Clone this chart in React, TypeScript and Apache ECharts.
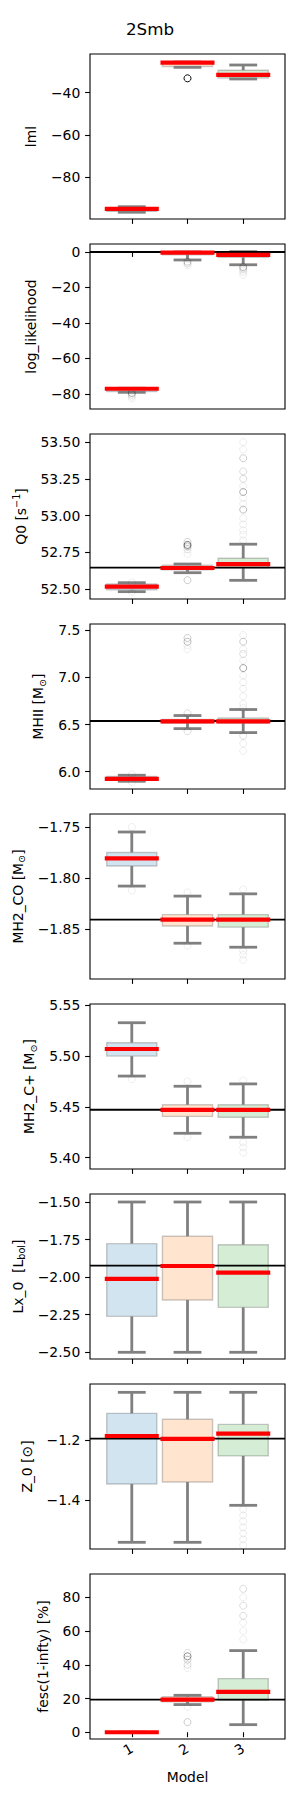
import React, { useEffect, useRef } from "react";
import * as echarts from "echarts";

const FONT = "DejaVu Sans";
const TITLE = "2Smb";
const X_NAME = "Model";
const MODELS = [1, 2, 3];
const X_TICKS = [1, 2, 3];
const X_MIN = 0.25;
const X_MAX = 3.75;

// Box stats per model: [whiskerLow, q1, median, q3, whiskerHigh]
const lmlBoxes = [[-96.5, -96.1, -95.0, -94.3, -93.9], [-28.0, -27.6, -26.0, -25.6, -25.5], [-33.5, -33.1, -31.6, -29.4, -26.9]];
const lmlMeans = [-94.9, -25.8, -31.6];
const lmlFliers = [[2, -33.2, 45]];
const lmlTicks = [-80, -60, -40];

const llBoxes = [[-79.1, -78.6, -77.5, -76.9, -76.8], [-4.5, -1.6, -0.6, -0.1, 0.0], [-7.2, -3.0, -1.5, -0.4, 0.2]];
const llMeans = [-77.1, -0.4, -1.6];
const llTrue = 0;
const llFliers = [[1, -79.5, 5], [1, -80.5, 2], [1, -81.5, 1], [1, -82.5, 1], [2, -5.5, 3], [2, -6.5, 2], [2, -7.5, 1], [3, -8.5, 4], [3, -9.5, 2], [3, -10.5, 1], [3, -11.5, 1], [3, -13, 1]];
const llTicks = [-80, -60, -40, -20, 0];

const q0Boxes = [[52.482, 52.494, 52.512, 52.534, 52.543], [52.611, 52.630, 52.642, 52.662, 52.670], [52.559, 52.645, 52.668, 52.709, 52.805]];
const q0Means = [52.516, 52.643, 52.670];
const q0True = 52.645;
const q0Fliers = [[1, 52.545, 1], [1, 52.48, 1], [2, 52.80, 10], [2, 52.79, 4], [2, 52.82, 3], [2, 52.77, 2], [2, 52.74, 1], [2, 52.56, 3], [3, 52.83, 1], [3, 52.87, 1], [3, 52.90, 1], [3, 52.94, 1], [3, 52.98, 1], [3, 53.04, 4], [3, 53.08, 1], [3, 53.12, 1], [3, 53.16, 5], [3, 53.20, 1], [3, 53.25, 2], [3, 53.30, 2], [3, 53.39, 3], [3, 53.45, 1], [3, 53.50, 1]];
const q0Ticks = [52.5, 52.75, 53.0, 53.25, 53.5];

const mhiiBoxes = [[5.898, 5.908, 5.923, 5.948, 5.962], [6.457, 6.515, 6.535, 6.555, 6.596], [6.415, 6.515, 6.535, 6.570, 6.660]];
const mhiiMeans = [5.923, 6.535, 6.535];
const mhiiTrue = 6.538;
const mhiiFliers = [[1, 5.97, 1], [1, 5.89, 1], [2, 7.38, 4], [2, 7.42, 3], [2, 7.34, 1], [2, 7.30, 1], [2, 6.62, 2], [2, 6.43, 2], [3, 7.45, 1], [3, 7.38, 3], [3, 7.30, 1], [3, 7.25, 2], [3, 7.18, 1], [3, 7.10, 6], [3, 7.02, 1], [3, 6.95, 1], [3, 6.88, 1], [3, 6.80, 1], [3, 6.72, 1], [3, 6.68, 1], [3, 6.38, 2], [3, 6.30, 1], [3, 6.22, 1]];
const mhiiTicks = [6.0, 6.5, 7.0, 7.5];

const coBoxes = [[-1.8078, -1.7882, -1.7810, -1.7749, -1.7549], [-1.8637, -1.8468, -1.8406, -1.8357, -1.8176], [-1.8676, -1.8480, -1.8406, -1.8357, -1.8154]];
const coMeans = [-1.7808, -1.8406, -1.8406];
const coTrue = -1.8406;
const coFliers = [[1, -1.750, 1], [1, -1.812, 1], [2, -1.814, 1], [2, -1.866, 1], [3, -1.811, 1], [3, -1.871, 1], [3, -1.875, 1], [3, -1.880, 1]];
const coTicks = [-1.85, -1.80, -1.75];

const cpBoxes = [[5.4802, 5.4998, 5.5068, 5.5130, 5.5326], [5.4240, 5.4406, 5.4470, 5.4520, 5.4702], [5.4201, 5.4397, 5.4470, 5.4520, 5.4725]];
const cpMeans = [5.5068, 5.4470, 5.4470];
const cpTrue = 5.4471;
const cpFliers = [[1, 5.477, 1], [2, 5.475, 1], [2, 5.42, 1], [3, 5.476, 1], [3, 5.415, 1], [3, 5.41, 1], [3, 5.405, 1]];
const cpTicks = [5.40, 5.45, 5.50, 5.55];

const lxBoxes = [[-2.5, -2.261, -2.012, -1.777, -1.5], [-2.5, -2.152, -1.926, -1.728, -1.5], [-2.5, -2.201, -1.970, -1.784, -1.5]];
const lxMeans = [-2.012, -1.926, -1.970];
const lxTrue = -1.9238;
const lxFliers = [];
const lxTicks = [-2.5, -2.25, -2.0, -1.75, -1.5];

const zBoxes = [[-1.540, -1.3457, -1.1857, -1.1101, -1.0401], [-1.540, -1.339, -1.195, -1.130, -1.040], [-1.4167, -1.252, -1.178, -1.147, -1.040]];
const zMeans = [-1.1857, -1.195, -1.178];
const zTrue = -1.1947;
const zFliers = [[3, -1.43, 1], [3, -1.45, 1], [3, -1.47, 1], [3, -1.49, 1], [3, -1.51, 1], [3, -1.53, 1], [3, -1.55, 1]];
const zTicks = [-1.4, -1.2];

const fescBoxes = [[0, 0, 0, 0, 0], [16.4, 18.0, 19.3, 21.0, 21.9], [4.5, 19.0, 23.9, 31.8, 48.4]];
const fescMeans = [0, 19.3, 23.9];
const fescTrue = 19.3;
const fescFliers = [[2, 45, 8], [2, 43, 3], [2, 40, 2], [2, 38, 1], [2, 47, 2], [2, 15, 1], [2, 6, 3], [3, 85, 2], [3, 80, 1], [3, 75, 2], [3, 69, 2], [3, 65, 1], [3, 60, 1], [3, 55, 1]];
const fescTicks = [0, 20, 40, 60, 80];

const panels = [
  { name: "lml", min: -99.7, max: -21.7, boxes: lmlBoxes, means: lmlMeans, truth: null, fliers: lmlFliers, ticks: lmlTicks, dec: 0, gap: 46 },
  { name: "log_likelihood", min: -88.5, max: 4.5, boxes: llBoxes, means: llMeans, truth: llTrue, fliers: llFliers, ticks: llTicks, dec: 0, gap: 46 },
  { name: "Q0 [s{sup|−1}]", min: 52.432, max: 53.555, boxes: q0Boxes, means: q0Means, truth: q0True, fliers: q0Fliers, ticks: q0Ticks, dec: 2, gap: 57 },
  { name: "MHII [M{sub|⊙}]", min: 5.816, max: 7.568, boxes: mhiiBoxes, means: mhiiMeans, truth: mhiiTrue, fliers: mhiiFliers, ticks: mhiiTicks, dec: 1, gap: 39 },
  { name: "MH2_CO [M{sub|⊙}]", min: -1.8987, max: -1.7373, boxes: coBoxes, means: coMeans, truth: coTrue, fliers: coFliers, ticks: coTicks, dec: 2, gap: 59 },
  { name: "MH2_C+ [M{sub|⊙}]", min: 5.3889, max: 5.551, boxes: cpBoxes, means: cpMeans, truth: cpTrue, fliers: cpFliers, ticks: cpTicks, dec: 2, gap: 47 },
  { name: "Lx_0  [L{sub|bol}]", min: -2.5446, max: -1.4468, boxes: lxBoxes, means: lxMeans, truth: lxTrue, fliers: lxFliers, ticks: lxTicks, dec: 2, gap: 59 },
  { name: "Z_0 [⊙]", min: -1.5623, max: -1.0123, boxes: zBoxes, means: zMeans, truth: zTrue, fliers: zFliers, ticks: zTicks, dec: 1, gap: 51 },
  { name: "fesc(1-infty) [%]", min: -4.0, max: 93.8, boxes: fescBoxes, means: fescMeans, truth: fescTrue, fliers: fescFliers, ticks: fescTicks, dec: 0, gap: 34 },
];

const BOX_FILLS = ["#d2e4f0", "#ffe5cf", "#d5ecd5"];
const WHISKER = "#808080";
const BOX_HALF = 0.45;
const CAP_HALF = 0.25;
const MEAN_HALF = 0.485;
const GRID_TOP0 = 54;
const GRID_STEP = 190;
const GRID_H = 165;

function fmt(v: number, d: number) {
  const s = Math.abs(v).toFixed(d);
  return (v < -1e-9 ? "\u2212" : "") + s;
}

function buildOption() {
  const grids: any[] = [];
  const xAxes: any[] = [];
  const yAxes: any[] = [];
  const series: any[] = [];
  const last = panels.length - 1;
  panels.forEach((p, gi) => {
    grids.push({ left: 90, width: 195, top: GRID_TOP0 + gi * GRID_STEP, height: GRID_H, show: true, borderColor: "#000", borderWidth: 1.1, backgroundColor: "transparent" });
    xAxes.push({
      gridIndex: gi, type: "value", min: X_MIN, max: X_MAX,
      axisLine: { show: false }, splitLine: { show: false },
      axisTick: { show: true, length: 4.9, lineStyle: { color: "#000", width: 1.1 }, customValues: X_TICKS },
      axisLabel: { show: gi === last, customValues: X_TICKS, rotate: 30, margin: 8, fontSize: 13.9, fontFamily: FONT, color: "#000", formatter: (v: number) => String(Math.round(v)) },
      name: gi === last ? X_NAME : "", nameLocation: "middle", nameGap: 31,
      nameTextStyle: { fontSize: 13.9, fontFamily: FONT, color: "#000" },
    });
    yAxes.push({
      gridIndex: gi, type: "value", min: p.min, max: p.max,
      axisLine: { show: false }, splitLine: { show: false },
      axisTick: { show: true, length: 4.9, lineStyle: { color: "#000", width: 1.1 }, customValues: p.ticks },
      axisLabel: { customValues: p.ticks, margin: 9.7, fontSize: 13.9, fontFamily: FONT, color: "#000", formatter: (v: number) => fmt(v, p.dec) },
      name: p.name, nameLocation: "middle", nameRotate: 90, nameGap: p.gap,
      nameTextStyle: {
        fontSize: 13.9, fontFamily: FONT, color: "#000", lineHeight: 18,
        rich: {
          sub: { fontSize: 9.7, fontFamily: FONT, color: "#000", verticalAlign: "bottom", lineHeight: 18 },
          sup: { fontSize: 9.7, fontFamily: FONT, color: "#000", verticalAlign: "top", lineHeight: 18 },
        },
      },
    });
    series.push({
      type: "custom", xAxisIndex: gi, yAxisIndex: gi, z: 2, silent: true,
      data: p.boxes.map((b, i) => [MODELS[i], ...b]),
      encode: { x: 0, y: [1, 2, 3, 4, 5] },
      renderItem: (params: any, api: any) => {
        const x = api.value(0);
        const lo = api.value(1), q1 = api.value(2), q3 = api.value(4), hi = api.value(5);
        const a = api.coord([x - BOX_HALF, q3]);
        const b = api.coord([x + BOX_HALF, q1]);
        const cL = api.coord([x - CAP_HALF, hi]);
        const cR = api.coord([x + CAP_HALF, lo]);
        const ws = { stroke: WHISKER, lineWidth: 2.8 };
        const cx = api.coord([x, hi])[0];
        return {
          type: "group",
          children: [
            { type: "rect", shape: { x: a[0], y: a[1], width: b[0] - a[0], height: b[1] - a[1] }, style: { fill: BOX_FILLS[params.dataIndex], stroke: "rgba(0,0,0,0.2)", lineWidth: 1.4 } },
            { type: "line", shape: { x1: cx, y1: a[1], x2: cx, y2: cL[1] }, style: ws },
            { type: "line", shape: { x1: cx, y1: b[1], x2: cx, y2: cR[1] }, style: ws },
            { type: "line", shape: { x1: cL[0], y1: cL[1], x2: cR[0], y2: cL[1] }, style: ws },
            { type: "line", shape: { x1: cL[0], y1: cR[1], x2: cR[0], y2: cR[1] }, style: ws },
          ],
        };
      },
    });
    if (p.fliers.length) {
      series.push({
        type: "scatter", xAxisIndex: gi, yAxisIndex: gi, z: 3, silent: true,
        symbol: "circle", symbolSize: 7,
        data: p.fliers.map((f) => ({
          value: [f[0], f[1]],
          itemStyle: { color: "rgba(0,0,0,0)", borderColor: "#000", borderWidth: 1, opacity: 1 - Math.pow(0.93, f[2]) },
        })),
      });
    }
    if (p.truth !== null) {
      series.push({
        type: "custom", xAxisIndex: gi, yAxisIndex: gi, z: 4, silent: true,
        data: [[X_MIN, p.truth]], encode: { x: 0, y: 1 },
        renderItem: (params: any, api: any) => {
          const cs = params.coordSys;
          const y = api.coord([X_MIN, api.value(1)])[1];
          return { type: "line", shape: { x1: cs.x, y1: y, x2: cs.x + cs.width, y2: y }, style: { stroke: "#000", lineWidth: 1.8 } };
        },
      });
    }
    series.push({
      type: "custom", xAxisIndex: gi, yAxisIndex: gi, z: 5, silent: true,
      data: p.means.map((m, i) => [MODELS[i], m]), encode: { x: 0, y: 1 },
      renderItem: (params: any, api: any) => {
        const x = api.value(0), v = api.value(1);
        const l = api.coord([x - MEAN_HALF, v]);
        const r = api.coord([x + MEAN_HALF, v]);
        return { type: "line", shape: { x1: l[0], y1: l[1], x2: r[0], y2: r[1] }, style: { stroke: "#ff0000", lineWidth: 4.2 } };
      },
    });
  });
  return {
    animation: false,
    backgroundColor: "#ffffff",
    title: { text: TITLE, left: "center", top: 15, textStyle: { fontSize: 16.7, fontWeight: "normal", fontFamily: FONT, color: "#000" } },
    grid: grids, xAxis: xAxes, yAxis: yAxes, series,
  };
}

export default function App() {
  const ref = useRef<HTMLDivElement>(null);
  useEffect(() => {
    if (!ref.current) return;
    const chart = echarts.init(ref.current, null, { renderer: "svg", width: 300, height: 1800 });
    chart.setOption(buildOption() as any);
    return () => chart.dispose();
  }, []);
  return <div ref={ref} style={{ position: "absolute", left: 0, top: 0, width: 300, height: 1800, background: "#fff" }} />;
}
